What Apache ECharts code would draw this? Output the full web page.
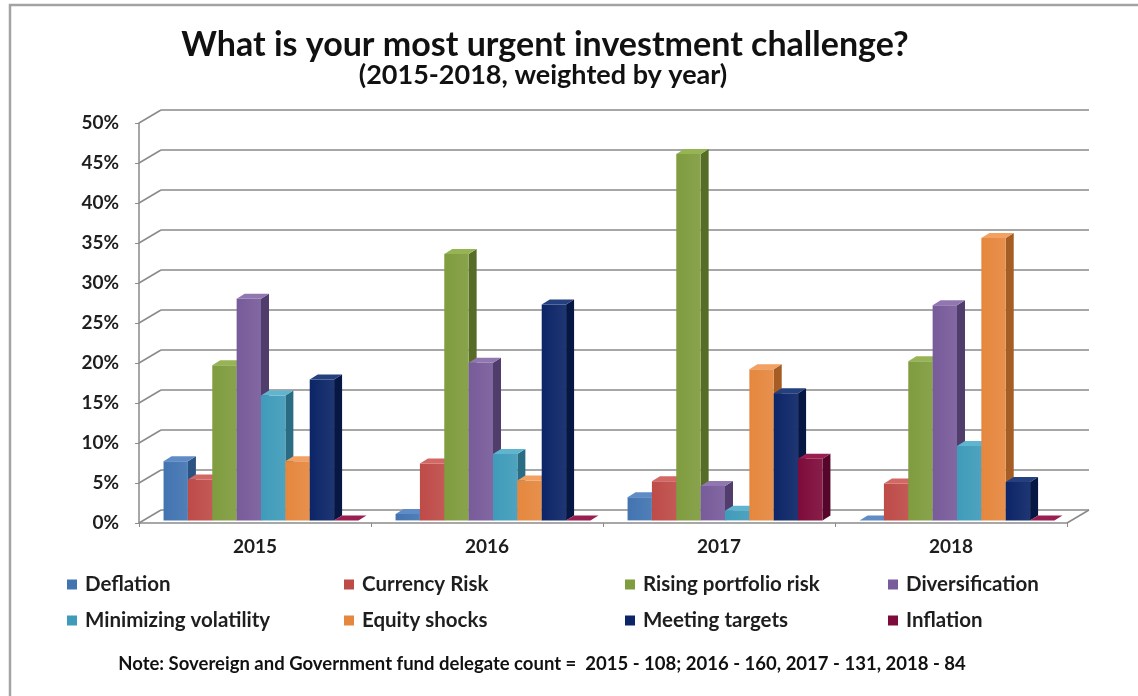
<!DOCTYPE html>
<html>
<head>
<meta charset="utf-8">
<script src="https://cdn.jsdelivr.net/npm/echarts@6/dist/echarts.min.js"></script>
<style>
  html, body { margin: 0; padding: 0; background: #ffffff; }
  #chart { width: 1138px; height: 696px; }
</style>
</head>
<body>
<div id="chart"></div>
<script>
// Survey years
const categories = ['2015', '2016', '2017', '2018'];

// Share of delegates naming each challenge (percent, weighted by year)
const deflation            = [7.4, 0.8, 2.9, 0];
const currencyRisk         = [5.1, 7.1, 4.9, 4.6];
const risingPortfolioRisk  = [19.4, 33.3, 45.8, 19.9];
const diversification      = [27.7, 19.7, 4.3, 26.9];
const minimizingVolatility = [15.6, 8.3, 1.2, 9.3];
const equityShocks         = [7.4, 5.0, 18.9, 35.3];
const meetingTargets       = [17.6, 27.0, 15.9, 4.8];
const inflation            = [0, 0, 7.7, 0];

// Value axis ticks (percent)
const yTicks = [0, 5, 10, 15, 20, 25, 30, 35, 40, 45, 50];

const seriesDefs = [
  { name: 'Deflation',             data: deflation,            front: '#4274B1', side: '#2C5282', top: '#5F8CC6' },
  { name: 'Currency Risk',         data: currencyRisk,         front: '#BE4B48', side: '#8A3330', top: '#D26763' },
  { name: 'Rising portfolio risk', data: risingPortfolioRisk,  front: '#7F9C3E', side: '#566C27', top: '#97B455' },
  { name: 'Diversification',       data: diversification,      front: '#785B9A', side: '#513D6B', top: '#9077B0' },
  { name: 'Minimizing volatility', data: minimizingVolatility, front: '#3F9BBA', side: '#296C83', top: '#5FB4D0' },
  { name: 'Equity shocks',         data: equityShocks,         front: '#E5873E', side: '#A65D23', top: '#F2A162' },
  { name: 'Meeting targets',       data: meetingTargets,       front: '#0C2567', side: '#061743', top: '#24407F' },
  { name: 'Inflation',             data: inflation,            front: '#7E0B3B', side: '#55062A', top: '#9A1E50' }
];

// 3D look: floor depth and bar depth in pixels
const WALL_DX = 22, WALL_DY = -13;
const BAR_DX = 8, BAR_DY = -5;
const BAR_OFF_X = 6, BAR_OFF_Y = -2.6;
const BAR_FRAC = 0.105;
const GRID_COLOR = '#8a8a8a';

function barRenderer(sIdx, def) {
  return function (params, api) {
    const ci = api.value(0);
    const v = api.value(1);
    const base = api.coord([ci, 0]);
    const topPt = api.coord([ci, v]);
    const catW = api.size([1, 0])[0];
    const w = catW * BAR_FRAC;
    const x0 = base[0] - 4 * w + BAR_OFF_X + sIdx * w;
    const x1 = x0 + w;
    const yb = base[1] + BAR_OFF_Y;
    const yt = topPt[1] + BAR_OFF_Y;
    const children = [];
    if (yb - yt > 0.3) {
      children.push({
        type: 'polygon',
        shape: { points: [[x1, yt], [x1 + BAR_DX, yt + BAR_DY], [x1 + BAR_DX, yb + BAR_DY], [x1, yb]] },
        style: { fill: def.side }
      });
      children.push({
        type: 'rect',
        shape: { x: x0, y: yt, width: w, height: yb - yt },
        style: { fill: new echarts.graphic.LinearGradient(0, 0, 1, 0, [
          { offset: 0, color: def.front },
          { offset: 1, color: echarts.color.lift(def.front, 0.08) }
        ]) }
      });
    }
    children.push({
      type: 'polygon',
      shape: { points: [[x0, yt], [x1, yt], [x1 + BAR_DX, yt + BAR_DY], [x0 + BAR_DX, yt + BAR_DY]] },
      style: { fill: def.top }
    });
    return { type: 'group', children: children };
  };
}

// Left wall diagonals at each tick, plus the right edge of the floor
function wallRenderer(params, api) {
  const v = api.value(1);
  const p = api.coord([0, v]);
  const catW = api.size([1, 0])[0];
  const left = p[0] - catW / 2;
  const children = [{
    type: 'line',
    shape: { x1: left, y1: p[1], x2: left + WALL_DX, y2: p[1] + WALL_DY },
    style: { stroke: GRID_COLOR, lineWidth: 1.5 }
  }];
  if (v === 0) {
    const pr = api.coord([categories.length - 1, 0]);
    const right = pr[0] + catW / 2;
    children.push({
      type: 'line',
      shape: { x1: right, y1: pr[1], x2: right + WALL_DX, y2: pr[1] + WALL_DY },
      style: { stroke: GRID_COLOR, lineWidth: 1.5 }
    });
  }
  return { type: 'group', children: children };
}

const FONT = 'Lato';
const labelStyle = { fontFamily: FONT, fontWeight: 'bold', fontSize: 19, color: '#1e1e1e' };

const series = seriesDefs.map(function (def, i) {
  return {
    type: 'custom',
    name: def.name,
    xAxisIndex: 0,
    yAxisIndex: 0,
    itemStyle: { color: def.front },
    renderItem: barRenderer(i, def),
    encode: { x: 0, y: 1 },
    data: def.data.map(function (val, ci) { return [ci, val]; }),
    z: 3
  };
});
series.push({
  type: 'custom',
  name: 'wall',
  xAxisIndex: 0,
  yAxisIndex: 0,
  silent: true,
  renderItem: wallRenderer,
  encode: { x: 0, y: 1 },
  data: yTicks.map(function (t) { return [0, t]; }),
  z: 1
});

function legendCol(names, left) {
  return {
    data: names.map(function (n) {
      const d = seriesDefs.find(function (s) { return s.name === n; });
      return { name: n, icon: 'rect', itemStyle: { color: d.front } };
    }),
    left: left,
    top: 574,
    orient: 'vertical',
    padding: 0,
    itemGap: 15,
    itemWidth: 10,
    itemHeight: 10,
    selectedMode: false,
    textStyle: Object.assign({}, labelStyle, { fontSize: 20.5, lineHeight: 20, padding: [0, 0, 0, 3] })
  };
}

const chart = echarts.init(document.getElementById('chart'), null, { renderer: 'canvas' });
chart.setOption({
  backgroundColor: '#ffffff',
  animation: false,
  graphic: [
    { type: 'rect', shape: { x: 10, y: 5, width: 1200, height: 800 }, style: { fill: 'none', stroke: '#a3a3a3', lineWidth: 2.5 }, silent: true },
    { type: 'text', x: 545, y: 45, style: { text: 'What is your most urgent investment challenge?', align: 'center', verticalAlign: 'middle', font: 'bold 34px Lato', fill: '#111111' } },
    { type: 'text', x: 543, y: 75, style: { text: '(2015-2018, weighted by year)', align: 'center', verticalAlign: 'middle', font: 'bold 27px Lato', fill: '#111111' } },
    { type: 'text', x: 542, y: 664, style: { text: 'Note: Sovereign and Government fund delegate count =  2015 - 108; 2016 - 160, 2017 - 131, 2018 - 84', align: 'center', verticalAlign: 'middle', font: 'bold 18.5px Lato', fill: '#111111' } }
  ],
  legend: [
    legendCol(['Deflation', 'Minimizing volatility'], 67),
    legendCol(['Currency Risk', 'Equity shocks'], 344),
    legendCol(['Rising portfolio risk', 'Meeting targets'], 625),
    legendCol(['Diversification', 'Inflation'], 888)
  ],
  grid: [
    { left: 139, right: 71, top: 123, bottom: 173 },
    { left: 139 + WALL_DX, right: 71 - WALL_DX, top: 123 + WALL_DY, bottom: 173 - WALL_DY }
  ],
  xAxis: [
    {
      gridIndex: 0,
      type: 'category',
      data: categories,
      boundaryGap: true,
      axisLine: { show: true, lineStyle: { color: GRID_COLOR, width: 1.5 } },
      axisTick: { show: true, length: 4, interval: 0, lineStyle: { color: GRID_COLOR } },
      axisLabel: Object.assign({ margin: 14 }, labelStyle)
    },
    { gridIndex: 1, type: 'category', data: categories, show: false }
  ],
  yAxis: [
    {
      gridIndex: 0,
      type: 'value',
      min: yTicks[0],
      max: yTicks[yTicks.length - 1],
      interval: 5,
      axisLine: { show: true, lineStyle: { color: GRID_COLOR, width: 1.5 } },
      axisTick: { show: true, length: 4, lineStyle: { color: GRID_COLOR } },
      splitLine: { show: false },
      axisLabel: Object.assign({ margin: 20, formatter: '{value}%' }, labelStyle)
    },
    {
      gridIndex: 1,
      type: 'value',
      min: yTicks[0],
      max: yTicks[yTicks.length - 1],
      interval: 5,
      axisLine: { show: false },
      axisTick: { show: false },
      axisLabel: { show: false },
      splitLine: { show: true, lineStyle: { color: GRID_COLOR, width: 1.5 } }
    }
  ],
  series: series
});
</script>
</body>
</html>
